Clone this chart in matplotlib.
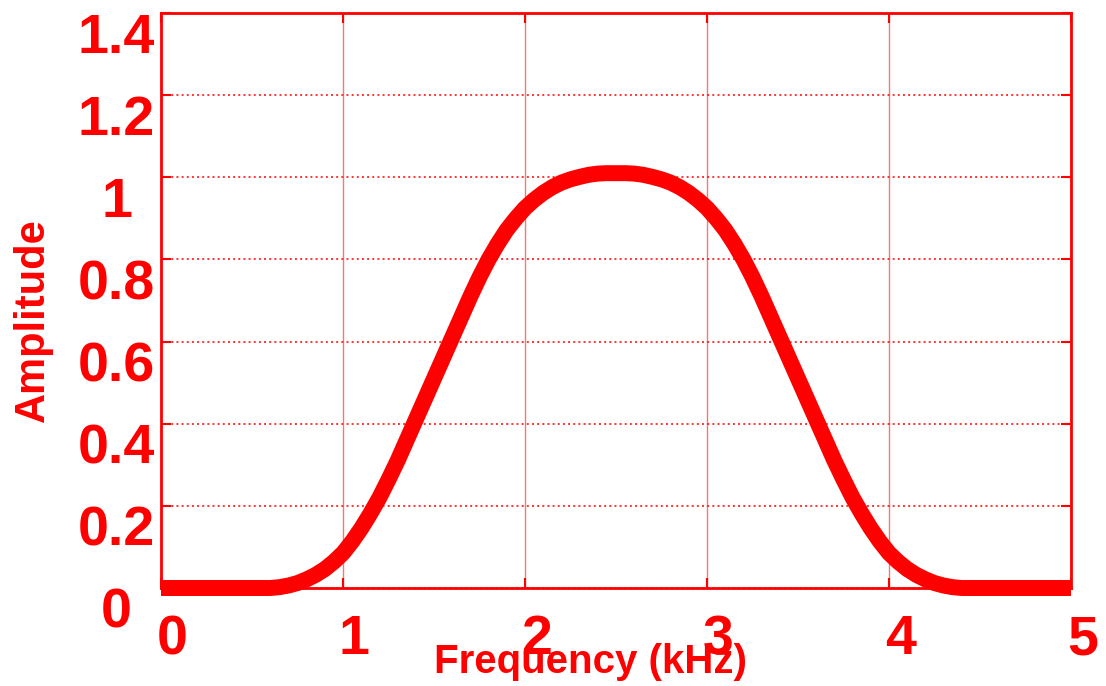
import matplotlib.pyplot as plt
from matplotlib.transforms import ScaledTranslation

# spectre lu point par point (kHz, amplitude)
freq_khz = [0.0, 0.6, 0.65, 0.7, 0.75, 0.8, 0.85, 0.9, 0.95,
            1.0, 1.05, 1.1, 1.15, 1.2, 1.25, 1.3, 1.35, 1.4, 1.45,
            1.5, 1.55, 1.6, 1.65, 1.7, 1.75, 1.8, 1.85, 1.9, 1.95,
            2.0, 2.05, 2.1, 2.15, 2.2, 2.25, 2.3, 2.35, 2.4, 2.45,
            2.5, 2.55, 2.6, 2.65, 2.7, 2.75, 2.8, 2.85, 2.9, 2.95,
            3.0, 3.05, 3.1, 3.15, 3.2, 3.25, 3.3, 3.35, 3.4, 3.45,
            3.5, 3.55, 3.6, 3.65, 3.7, 3.75, 3.8, 3.85, 3.9, 3.95,
            4.0, 4.05, 4.1, 4.15, 4.2, 4.25, 4.3, 4.35, 4.4, 5.0]
amplitude = [0.0, 0.0, 0.002, 0.006, 0.012, 0.021, 0.032, 0.046, 0.064,
             0.085, 0.113, 0.145, 0.181, 0.22, 0.264, 0.31, 0.36, 0.41, 0.46,
             0.51, 0.56, 0.61, 0.66, 0.71, 0.757, 0.80, 0.838, 0.872, 0.90,
             0.925, 0.945, 0.962, 0.976, 0.987, 0.995, 1.001, 1.006, 1.009, 1.01,
             1.01, 1.01, 1.009, 1.006, 1.001, 0.995, 0.987, 0.976, 0.962, 0.945,
             0.925, 0.90, 0.872, 0.838, 0.80, 0.757, 0.71, 0.66, 0.61, 0.56,
             0.51, 0.46, 0.41, 0.36, 0.31, 0.264, 0.22, 0.181, 0.145, 0.113,
             0.085, 0.064, 0.046, 0.032, 0.021, 0.012, 0.006, 0.002, 0.0, 0.0]

xticks = [0, 1, 2, 3, 4, 5]
xtick_labels = ['0', '1', '2', '3', '4', '5']
yticks = [0, 0.2, 0.4, 0.6, 0.8, 1.0, 1.2, 1.4]
ytick_labels = ['0', '0.2', '0.4', '0.6', '0.8', '1', '1.2', '1.4']

rouge = '#ff0000'
plt.rcParams['font.family'] = ['Liberation Sans', 'DejaVu Sans']

fig = plt.figure(figsize=(11.06, 6.86), dpi=100)
ax = fig.add_axes([161/1106, 98/686, 910/1106, 575/686])

# courbe
ax.plot(freq_khz, amplitude, color=rouge, lw=11.5, solid_capstyle='butt',
        solid_joinstyle='round', clip_on=False, zorder=3)

ax.set_xlim(0, 5)
ax.set_ylim(0, 1.4)

# grille: verticale pleine, horizontale en pointilles
ax.xaxis.grid(True, color=rouge, ls='-', lw=1.0, alpha=0.55)
ax.yaxis.grid(True, color=rouge, ls=':', lw=1.4, alpha=0.8)

for s in ax.spines.values():
    s.set_color(rouge)
    s.set_linewidth(2)

ax.tick_params(direction='in', length=7, width=1.5, colors=rouge,
               top=True, right=True)

ax.set_xticks(xticks)
ax.set_xticklabels(xtick_labels, fontsize=40, fontweight='bold', color=rouge)
ax.set_yticks(yticks)
ax.set_yticklabels(ytick_labels, fontsize=40, fontweight='bold', color=rouge)
ax.tick_params(axis='x', pad=19)
ax.tick_params(axis='y', pad=32)

dx = ScaledTranslation(-4/100, 0, fig.dpi_scale_trans)
for lab in ax.get_xticklabels():
    lab.set_ha('left')
    lab.set_transform(lab.get_transform() + dx)
for lab in ax.get_yticklabels():
    lab.set_ha('center')
    lab.set_va('top')

ax.set_xlabel('Frequency (kHz)', fontsize=29, fontweight='bold', color=rouge)
ax.xaxis.set_label_coords((591 - 161) / 910, -0.095)
ax.set_ylabel('Amplitude', fontsize=30, fontweight='bold', color=rouge)
ax.yaxis.set_label_coords((53 - 161) / 910, (588 - 320) / 575)

fig.savefig('out.png', dpi=100)
